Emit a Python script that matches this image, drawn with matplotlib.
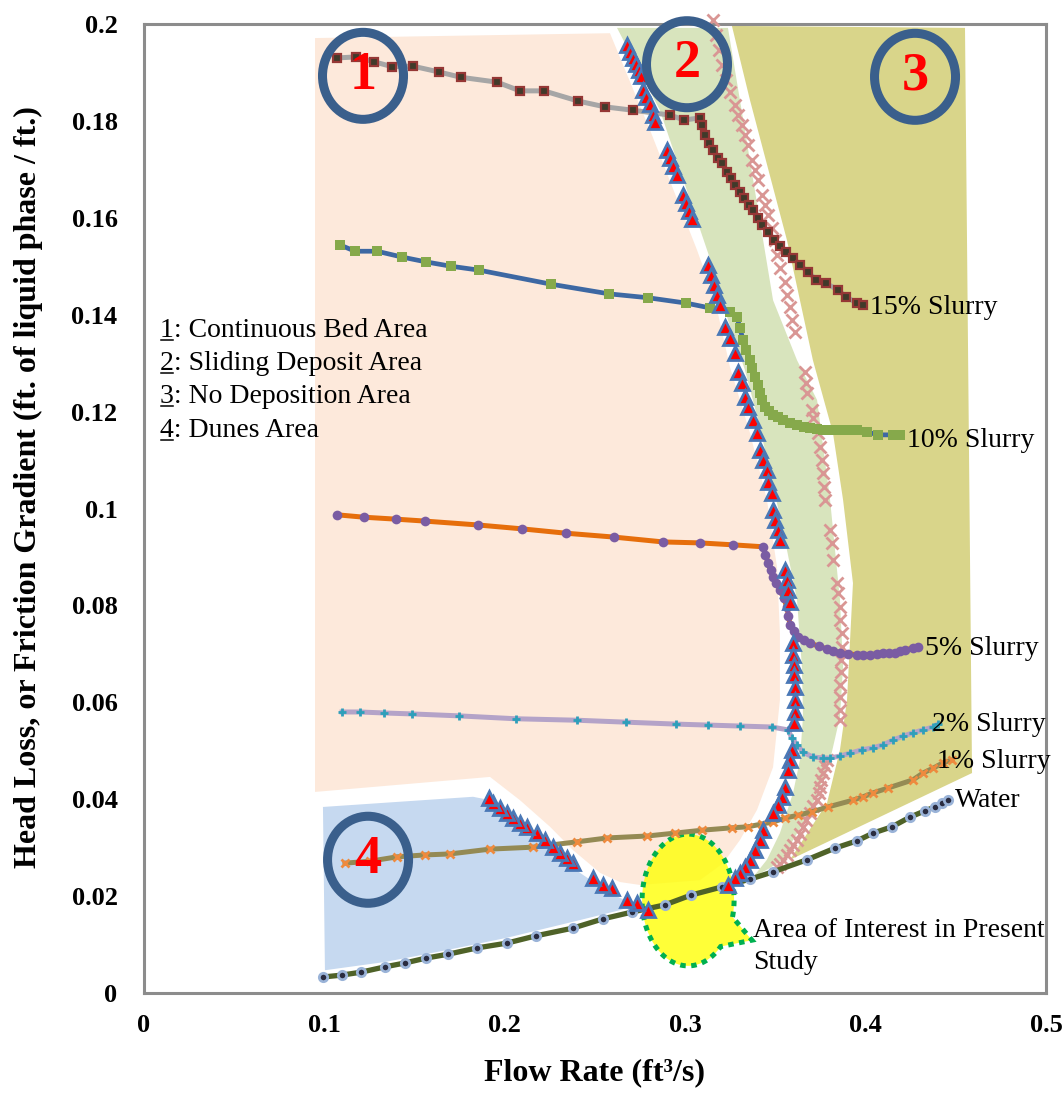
import numpy as np
import matplotlib
matplotlib.use("Agg")
import matplotlib.pyplot as plt
from matplotlib.patches import Polygon, Ellipse

plt.rcParams['font.family'] = ['Liberation Serif', 'DejaVu Serif']

# ---------------- data ----------------
s15_x = [0.107, 0.1175, 0.1275, 0.1375, 0.149, 0.1635, 0.1757, 0.1957, 0.2084, 0.2217, 0.2406,
         0.2555, 0.271, 0.2916, 0.2993, 0.3082, 0.3093, 0.311, 0.3132, 0.3154, 0.3182, 0.3204,
         0.3232, 0.3254, 0.3276, 0.3304, 0.3326, 0.3354, 0.3376, 0.3404, 0.3426, 0.3459, 0.3492,
         0.3525, 0.3559, 0.3598, 0.3636, 0.3681, 0.3725, 0.378, 0.3847, 0.3891, 0.3952, 0.3986]
s15_y = [0.193, 0.1932, 0.1922, 0.1912, 0.1913, 0.1901, 0.189, 0.188, 0.1862, 0.1862, 0.1841,
         0.1829, 0.1822, 0.1812, 0.1802, 0.1806, 0.1792, 0.1771, 0.1754, 0.174, 0.1723, 0.1713,
         0.1695, 0.1682, 0.1668, 0.1653, 0.1641, 0.1627, 0.1616, 0.16, 0.1585, 0.1571, 0.1554,
         0.1542, 0.1529, 0.1517, 0.1503, 0.1488, 0.1472, 0.1465, 0.1451, 0.1437, 0.1424, 0.142]

s10_x = [0.1086, 0.117, 0.1292, 0.143, 0.1563, 0.1702, 0.1857, 0.2256, 0.2578, 0.2794, 0.3004,
         0.3137, 0.3248, 0.3287, 0.3304, 0.332, 0.3338, 0.3359, 0.3373, 0.3387, 0.3401, 0.3415,
         0.3428, 0.3442, 0.3465, 0.3487, 0.3515, 0.3542, 0.358, 0.362, 0.3656, 0.3692, 0.3728,
         0.3764, 0.3802, 0.3841, 0.3896, 0.3952, 0.4008, 0.4069, 0.4152, 0.4191]
s10_y = [0.1544, 0.1531, 0.1531, 0.1519, 0.1509, 0.15, 0.1492, 0.1463, 0.1443, 0.1435, 0.1424,
         0.1414, 0.1406, 0.1395, 0.1372, 0.1348, 0.1327, 0.1306, 0.1289, 0.1271, 0.1255, 0.1238,
         0.1224, 0.121, 0.1201, 0.1193, 0.1188, 0.1183, 0.1177, 0.1172, 0.1169, 0.1166, 0.1164,
         0.1162, 0.1162, 0.1162, 0.1162, 0.1162, 0.1158, 0.1152, 0.1152, 0.1152]

s5_x = [0.107, 0.122, 0.1397, 0.1558, 0.1851, 0.2095, 0.2339, 0.2605, 0.2877, 0.3082, 0.3265,
        0.3431, 0.3445, 0.3459, 0.3473, 0.3487, 0.3506, 0.3525, 0.3545, 0.3564, 0.3572, 0.3581,
        0.3603, 0.3625, 0.3658, 0.3692, 0.3739, 0.3786, 0.3822, 0.3858, 0.3905, 0.3952, 0.3988,
        0.4024, 0.4061, 0.4097, 0.413, 0.4163, 0.419, 0.4218, 0.4263, 0.429]
s5_y = [0.0987, 0.0982, 0.0978, 0.0974, 0.0966, 0.0958, 0.0949, 0.0941, 0.0931, 0.0929, 0.0925,
        0.0921, 0.0905, 0.0888, 0.0873, 0.0859, 0.0846, 0.0832, 0.0815, 0.0797, 0.0779, 0.076,
        0.0747, 0.0735, 0.0728, 0.0722, 0.0716, 0.071, 0.0706, 0.0702, 0.07, 0.0698, 0.0698,
        0.0698, 0.07, 0.0702, 0.0702, 0.0702, 0.0705, 0.0708, 0.0712, 0.0714]

s2_x = [0.1098, 0.1197, 0.133, 0.1486, 0.1746, 0.2062, 0.24, 0.2672, 0.2949, 0.3126, 0.3304,
        0.3481, 0.357, 0.3592, 0.362, 0.3653, 0.3708, 0.3764, 0.3803, 0.3858, 0.3914, 0.398,
        0.4041, 0.4097, 0.4152, 0.4207, 0.4263, 0.4318, 0.4374, 0.4401]
s2_y = [0.058, 0.058, 0.0578, 0.0576, 0.0572, 0.0566, 0.0563, 0.0559, 0.0555, 0.0553, 0.0551,
        0.0549, 0.0543, 0.0526, 0.0512, 0.0497, 0.0487, 0.0485, 0.0485, 0.0489, 0.0495, 0.0502,
        0.0506, 0.0512, 0.0522, 0.053, 0.0537, 0.0543, 0.0549, 0.0555]

s1_x = [0.1114, 0.1253, 0.1402, 0.1558, 0.1696, 0.1918, 0.2156, 0.24, 0.2567, 0.2788, 0.2943,
        0.3093, 0.3259, 0.3348, 0.3426, 0.3487, 0.3553, 0.3625, 0.3703, 0.3792, 0.393, 0.3986,
        0.4041, 0.4124, 0.4263, 0.4318, 0.4374, 0.4429, 0.4479]
s1_y = [0.0268, 0.0272, 0.0281, 0.0285, 0.0287, 0.0297, 0.0301, 0.0312, 0.032, 0.0324, 0.033,
        0.0336, 0.0341, 0.0343, 0.0349, 0.0353, 0.0361, 0.0367, 0.0374, 0.0384, 0.0398, 0.0405,
        0.0413, 0.0423, 0.044, 0.0454, 0.0464, 0.0475, 0.0481]

water_x = [0.0992, 0.1098, 0.1203, 0.1336, 0.1447, 0.1563, 0.1685, 0.1846, 0.2012, 0.2173, 0.2378,
           0.2544, 0.2705, 0.2888, 0.3032, 0.3204, 0.3359, 0.3487, 0.3675, 0.383, 0.3952, 0.4041,
           0.4146, 0.4246, 0.4329, 0.4385, 0.4424, 0.4457]
water_y = [0.0033, 0.0037, 0.0043, 0.0054, 0.0062, 0.0072, 0.008, 0.0093, 0.0103, 0.0118, 0.0134,
           0.0153, 0.0167, 0.0182, 0.0202, 0.0219, 0.0235, 0.025, 0.0275, 0.0299, 0.0314, 0.033,
           0.0343, 0.0363, 0.0376, 0.0384, 0.0392, 0.0398]

# deposition boundary (triangles)
tri_x = [0.2677, 0.2694, 0.2711, 0.2727, 0.2744, 0.2755, 0.2766, 0.2783, 0.2805, 0.2822, 0.2833,
         0.2899, 0.2916, 0.2932, 0.2955, 0.2988, 0.3004, 0.3021, 0.3038, 0.3126, 0.3143, 0.316,
         0.3176, 0.3193, 0.3221, 0.3248, 0.3276, 0.3293, 0.3315, 0.3331, 0.3348, 0.3376, 0.3398,
         0.3415, 0.3431, 0.3453, 0.3459, 0.3481, 0.3487, 0.3498, 0.3514, 0.3525, 0.3553, 0.3564,
         0.357, 0.3581, 0.3598, 0.3598, 0.3603, 0.3603, 0.3609, 0.3609, 0.3609, 0.3603, 0.3592,
         0.3581, 0.357, 0.3553, 0.3537, 0.3514, 0.3487, 0.3431, 0.3415, 0.3387, 0.3359, 0.3331,
         0.3304, 0.3276, 0.3237,
         0.2794, 0.2733, 0.2677, 0.2594, 0.2544, 0.2489, 0.2378, 0.2345, 0.2306, 0.2267, 0.2223,
         0.2178, 0.2123, 0.2084, 0.2045, 0.2012, 0.1973, 0.1935, 0.1912]
tri_y = [0.1957, 0.1942, 0.193, 0.1917, 0.1905, 0.1893, 0.1864, 0.1849, 0.1835, 0.1812, 0.1798,
         0.174, 0.1723, 0.1707, 0.1688, 0.1647, 0.1631, 0.1614, 0.1598, 0.1503, 0.1482, 0.1461,
         0.1441, 0.142, 0.1375, 0.1352, 0.1321, 0.1282, 0.1259, 0.123, 0.121, 0.1183, 0.1156,
         0.1121, 0.11, 0.1079, 0.1055, 0.1032, 0.0997, 0.0976, 0.0956, 0.0935, 0.0873, 0.0852,
         0.0832, 0.0807, 0.0722, 0.0698, 0.0677, 0.0656, 0.0632, 0.0605, 0.058, 0.0557, 0.0502,
         0.0481, 0.046, 0.0425, 0.0405, 0.0388, 0.0372, 0.0336, 0.0316, 0.0295, 0.0275, 0.026,
         0.0248, 0.0237, 0.0223,
         0.0171, 0.0186, 0.0192, 0.0217, 0.0223, 0.0237, 0.0268, 0.0279, 0.0289, 0.0301, 0.0316,
         0.033, 0.0343, 0.0351, 0.0361, 0.0372, 0.0382, 0.0392, 0.0402]

# sliding/no deposition boundary (x markers)
xm_x = [0.3154, 0.3171, 0.3187, 0.3204, 0.3226, 0.3248, 0.3276, 0.3293, 0.3315, 0.3331, 0.3348,
        0.337, 0.3387, 0.3404, 0.3426, 0.3442, 0.3459, 0.3481, 0.3498, 0.3509, 0.3525, 0.3553,
        0.3564, 0.3581, 0.3592, 0.3609, 0.3664, 0.367, 0.3675, 0.3703, 0.3708, 0.3736, 0.3747,
        0.3758, 0.3764, 0.3769, 0.3775, 0.3803, 0.3814, 0.3819, 0.3841, 0.3847, 0.3858, 0.3858,
        0.3869, 0.3869, 0.3864, 0.3864, 0.3858, 0.3858, 0.3858, 0.3858, 0.3786, 0.3775, 0.3764,
        0.3755, 0.3747, 0.3739, 0.3731, 0.3711, 0.3692, 0.3672, 0.3653, 0.3636, 0.362, 0.36,
        0.3581, 0.3562, 0.3542, 0.3525, 0.3509]
xm_y = [0.2008, 0.1977, 0.1946, 0.1915, 0.1884, 0.186, 0.1833, 0.1812, 0.1792, 0.1771, 0.175,
        0.1719, 0.1699, 0.1678, 0.1647, 0.1626, 0.1606, 0.1579, 0.1554, 0.1523, 0.1496, 0.1467,
        0.1441, 0.1416, 0.1389, 0.1364, 0.1282, 0.1259, 0.1238, 0.1203, 0.1187, 0.1156, 0.1127,
        0.11, 0.1073, 0.1044, 0.1018, 0.0956, 0.0929, 0.0894, 0.0846, 0.0826, 0.0797, 0.077,
        0.0743, 0.0714, 0.0687, 0.0663, 0.0636, 0.0611, 0.0584, 0.0563, 0.0481, 0.0468, 0.0454,
        0.044, 0.0425, 0.0412, 0.0398, 0.0385, 0.0372, 0.0357, 0.0343, 0.0329, 0.0316, 0.0305,
        0.0295, 0.0285, 0.0275, 0.0267, 0.026]

# region outlines
reg1_x = [0.0948, 0.2583, 0.2805, 0.3065, 0.3165, 0.3248, 0.3359, 0.3453, 0.3509, 0.3525, 0.3525,
          0.3487, 0.3398, 0.3304, 0.321, 0.3082, 0.2749, 0.2639, 0.2528, 0.2378, 0.2251, 0.2084,
          0.1918, 0.0948]
reg1_y = [0.1971, 0.1981, 0.1781, 0.1534, 0.143, 0.1292, 0.1156, 0.1018, 0.0879, 0.0743, 0.0605,
          0.0466, 0.0378, 0.0316, 0.0268, 0.0233, 0.0223, 0.0229, 0.0248, 0.0295, 0.0343, 0.0398,
          0.0446, 0.0415]
reg2_x = [0.2622, 0.3237, 0.3331, 0.3487, 0.362, 0.3731, 0.3803, 0.3858, 0.3875, 0.3858, 0.3803,
          0.3747, 0.3675, 0.3598, 0.3553, 0.347, 0.3376, 0.3453, 0.3525, 0.3598, 0.3636, 0.3653,
          0.3647, 0.362, 0.3553, 0.3481, 0.3404, 0.3331, 0.3237, 0.3149, 0.3027, 0.286]
reg2_y = [0.1992, 0.1992, 0.1781, 0.143, 0.1306, 0.1224, 0.1018, 0.0811, 0.0673, 0.057, 0.0481,
          0.0425, 0.0363, 0.0316, 0.0279, 0.0258, 0.0239, 0.0275, 0.033, 0.0413, 0.0481, 0.057,
          0.0673, 0.0811, 0.0935, 0.1059, 0.1183, 0.1286, 0.1389, 0.1503, 0.1637, 0.1822]
reg3_x = [0.3259, 0.4551, 0.459, 0.3581, 0.3786, 0.3858, 0.3897, 0.3914, 0.393, 0.3875, 0.3819,
          0.3708, 0.3564, 0.3359]
reg3_y = [0.1996, 0.1992, 0.0454, 0.0275, 0.0392, 0.0502, 0.0605, 0.0729, 0.0846, 0.1018, 0.1156,
          0.1306, 0.1554, 0.1843]
reg4_x = [0.0992, 0.1824, 0.1918, 0.2084, 0.2251, 0.2417, 0.2583, 0.2722, 0.2639, 0.2378, 0.2012,
          0.1685, 0.1336, 0.1003]
reg4_y = [0.0384, 0.0405, 0.0398, 0.0351, 0.0295, 0.0248, 0.0206, 0.0182, 0.0171, 0.0147, 0.0114,
          0.0089, 0.0064, 0.0047]

region_numbers = ['1', '2', '3', '4']
region_cx = [0.1214, 0.301, 0.4274, 0.1242]
region_cy = [0.1893, 0.1917, 0.1891, 0.0275]

legend_lines = [('1', ': Continuous Bed Area'), ('2', ': Sliding Deposit Area'),
                ('3', ': No Deposition Area'), ('4', ': Dunes Area')]
legend_y = [0.1368, 0.1300, 0.1232, 0.1162]

curve_labels = ['15% Slurry', '10% Slurry', '5% Slurry', '2% Slurry', '1% Slurry', 'Water']
curve_label_x = [0.4024, 0.4230, 0.4329, 0.4368, 0.4396, 0.4496]
curve_label_y = [0.1414, 0.1141, 0.0712, 0.0555, 0.0477, 0.0398]

xticks = [0, 0.1, 0.2, 0.3, 0.4, 0.5]
xtick_labels = ['0', '0.1', '0.2', '0.3', '0.4', '0.5']
yticks = [0, 0.02, 0.04, 0.06, 0.08, 0.1, 0.12, 0.14, 0.16, 0.18, 0.2]
ytick_labels = ['0', '0.02', '0.04', '0.06', '0.08', '0.1', '0.12', '0.14', '0.16', '0.18', '0.2']

# ---------------- figure ----------------
W, H = 1064, 1097
fig = plt.figure(figsize=(W / 100, H / 100), dpi=100)
ax = fig.add_axes([144 / W, 104 / H, 902 / W, 969 / H])
ax.set_xlim(0, 0.5)
ax.set_ylim(0, 0.2)

for sp in ax.spines.values():
    sp.set_color('#8C8C8C')
    sp.set_linewidth(2.2)

ax.set_xticks(xticks)
ax.set_xticklabels(xtick_labels)
ax.set_yticks(yticks)
ax.set_yticklabels(ytick_labels)
ax.tick_params(axis='both', length=0, labelsize=19)
ax.tick_params(axis='y', pad=19)
ax.tick_params(axis='x', pad=15)
for lab in ax.get_xticklabels() + ax.get_yticklabels():
    lab.set_fontweight('bold')

# regions
ax.add_patch(Polygon(np.column_stack([reg1_x, reg1_y]), closed=True, fc='#FDE9DB', ec='none', zorder=1))
ax.add_patch(Polygon(np.column_stack([reg2_x, reg2_y]), closed=True, fc='#D8E4BD', ec='none', zorder=1))
ax.add_patch(Polygon(np.column_stack([reg3_x, reg3_y]), closed=True, fc='#D9D58A', ec='none', zorder=1))
ax.add_patch(Polygon(np.column_stack([reg4_x, reg4_y]), closed=True, fc='#C6D9F0', ec='none', zorder=1))

# area of interest callout (ellipse with a tail)
cx, cy, a, b = 0.3016, 0.0192, 0.0255, 0.0136
th = np.radians(np.linspace(-15, 315, 200))
pts = np.column_stack([cx + a * np.cos(th), cy + b * np.sin(th)])
pts = np.vstack([pts, [[0.337, 0.0109]]])
ax.add_patch(Polygon(pts, closed=True, fc=(1, 1, 0, 0.78), ec='#00B050', lw=3.6,
                     linestyle=(0, (1.1, 1.1)), zorder=2))

# curves
ax.plot(s15_x, s15_y, '-', color='#A6A6A6', lw=3.6, zorder=5)
ax.plot(s15_x, s15_y, 's', ms=5.5, mfc='#403A2A', mec='#953735', mew=1.6, zorder=6)
ax.plot(s10_x, s10_y, '-', color='#3D68A3', lw=3.4, zorder=5)
ax.plot(s10_x, s10_y, 's', ms=6.5, mfc='#86A94B', mec='#86A94B', mew=0, zorder=6)
ax.plot(s5_x, s5_y, '-', color='#E66E0B', lw=3.6, zorder=5)
ax.plot(s5_x, s5_y, 'o', ms=7, mfc='#7A5CA3', mec='#7A5CA3', mew=0, zorder=6)
ax.plot(s2_x, s2_y, '-', color='#B4A3C8', lw=3.6, zorder=5)
ax.plot(s2_x, s2_y, '+', ms=6, mec='#2E9FBA', mew=2, zorder=6)
ax.plot(s1_x, s1_y, '-', color='#948A54', lw=3.6, zorder=5)
ax.plot(s1_x, s1_y, 'x', ms=5.5, mec='#EE8A3E', mew=2, zorder=6)
ax.plot(water_x, water_y, '-', color='#4F6228', lw=3.8, zorder=5)
ax.plot(water_x, water_y, 'o', ms=6, mfc='#2A2C40', mec='#9AB3D8', mew=2, zorder=6)

ax.plot(xm_x, xm_y, 'x', ms=8, mec='#D99694', mew=2, zorder=4, clip_on=False)
ax.plot(tri_x, tri_y, '^', ms=9.5, mfc='#FF0000', mec='#4A78B6', mew=2, zorder=7)

# numbered circles
for n, x0, y0 in zip(region_numbers, region_cx, region_cy):
    ax.add_patch(Ellipse((x0, y0), 81 / 1804, 87 / 4845, fc='none', ec='#3A5F8C', lw=6.5,
                         zorder=8, clip_on=False))
    ax.text(x0, y0, n, color='#FF0000', fontsize=39, fontweight='bold', ha='center',
            va='center', zorder=9)

# legend-like text with underlined numbers
fig.canvas.draw()
rend = fig.canvas.get_renderer()
for (num, rest), yv in zip(legend_lines, legend_y):
    t = ax.text(0.0089, yv, num + rest, fontsize=20, ha='left', va='center', zorder=9)
    tn = ax.text(0.0089, yv, num, fontsize=20, ha='left', va='center', alpha=0)
    bb = tn.get_window_extent(rend)
    inv = ax.transData.inverted()
    (x0d, y0d) = inv.transform((bb.x0 + 1, bb.y0 + 3))
    (x1d, _) = inv.transform((bb.x1 - 1, bb.y0 + 3))
    ax.plot([x0d, x1d], [y0d, y0d], '-', color='black', lw=1.1, zorder=9)

for lab, xv, yv in zip(curve_labels, curve_label_x, curve_label_y):
    ax.text(xv, yv, lab, fontsize=20, ha='left', va='center', zorder=9)

ax.text(0.3376, 0.0130, 'Area of Interest in Present', fontsize=20, ha='left', va='center', zorder=9)
ax.text(0.3376, 0.0062, 'Study', fontsize=20, ha='left', va='center', zorder=9)

fig.text(595 / W, 1 - 1073 / H, 'Flow Rate (ft\u00b3/s)', fontsize=23, fontweight='bold',
         ha='center', va='center')
fig.text(28 / W, 1 - 487 / H, 'Head Loss, or Friction Gradient (ft. of liquid phase / ft.)',
         fontsize=23, fontweight='bold', ha='center', va='center', rotation=90)

fig.savefig('out.png', dpi=100)
